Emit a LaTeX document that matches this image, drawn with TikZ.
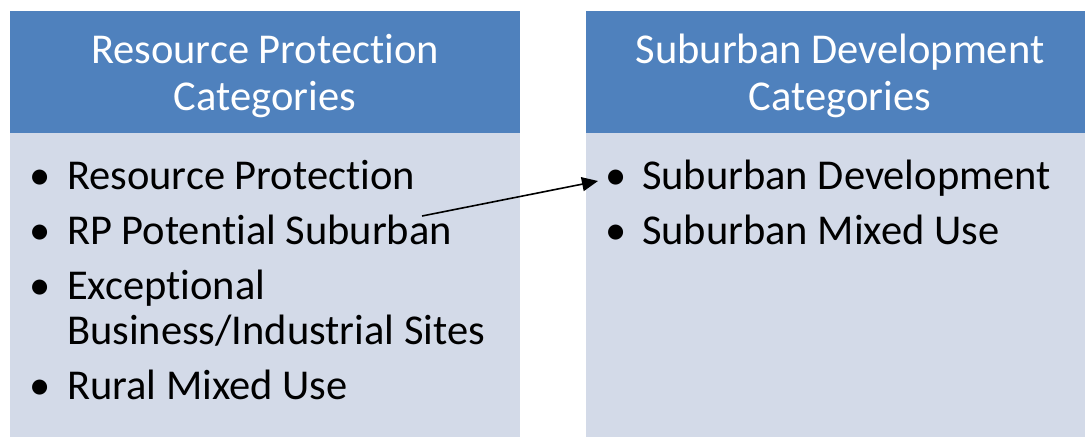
\documentclass[tikz,border=0pt]{standalone}
\usepackage{fontspec}
\setmainfont[Ligatures=NoCommon]{Carlito}
\usetikzlibrary{arrows.meta}
\definecolor{headblue}{HTML}{4F81BD}
\definecolor{bodyblue}{HTML}{D3DAE8}

\begin{document}
\begin{tikzpicture}[x=1pt,y=-1pt]

	\tikzstyle{every node}=[inner sep=0pt, outer sep=0pt]
	\tikzstyle{head}=[text=white, align=center, anchor=base, font=\fontsize{42.5}{47}\selectfont]
	\tikzstyle{entry}=[anchor=base west, align=left, font=\fontsize{42.5}{45}\selectfont]
	\tikzstyle{dot}=[anchor=base, font=\fontsize{42.5}{45}\selectfont]

	\useasboundingbox (0,0) rectangle (1085,437);
	\fill[white] (0,0) rectangle (1085,437);

	% boxes
	\fill[headblue] (10,11) rectangle (520,133);
	\fill[bodyblue] (10,133) rectangle (520,437);
	\fill[headblue] (586,11) rectangle (1094,133);
	\fill[bodyblue] (586,133) rectangle (1094,437);

	% headers (base = last line)
	\node[head] (rphead) at (265,110) {Resource Protection\\Categories};
	\node[head] (sdhead) at (840,110) {Suburban Development\\Categories};

	% left list
	\node[dot] at (40,189) {•};
	\node[entry] (rp1) at (67,189) {Resource Protection};
	\node[dot] at (40,244) {•};
	\node[entry] (rp2) at (67,244) {RP Potential Suburban};
	\node[dot] at (40,299) {•};
	\node[entry] (rp3) at (67,344) {Exceptional\\Business/Industrial Sites};
	\node[dot] at (40,399) {•};
	\node[entry] (rp4) at (67,399) {Rural Mixed Use};

	% right list
	\node[dot] (sddot) at (616,189) {•};
	\node[entry] (sd1) at (642,189) {Suburban Development};
	\node[dot] at (616,244) {•};
	\node[entry] (sd2) at (642,244) {Suburban Mixed Use};

	\coordinate (from) at ([xshift=-30pt,yshift=28pt]rp2.base east);
	\coordinate (to) at ([xshift=-18pt,yshift=8pt]sddot.base);
	\draw[line width=1.6pt, -{Triangle[length=16pt,width=14pt]}] (from) -- (to);

\end{tikzpicture}
\end{document}
